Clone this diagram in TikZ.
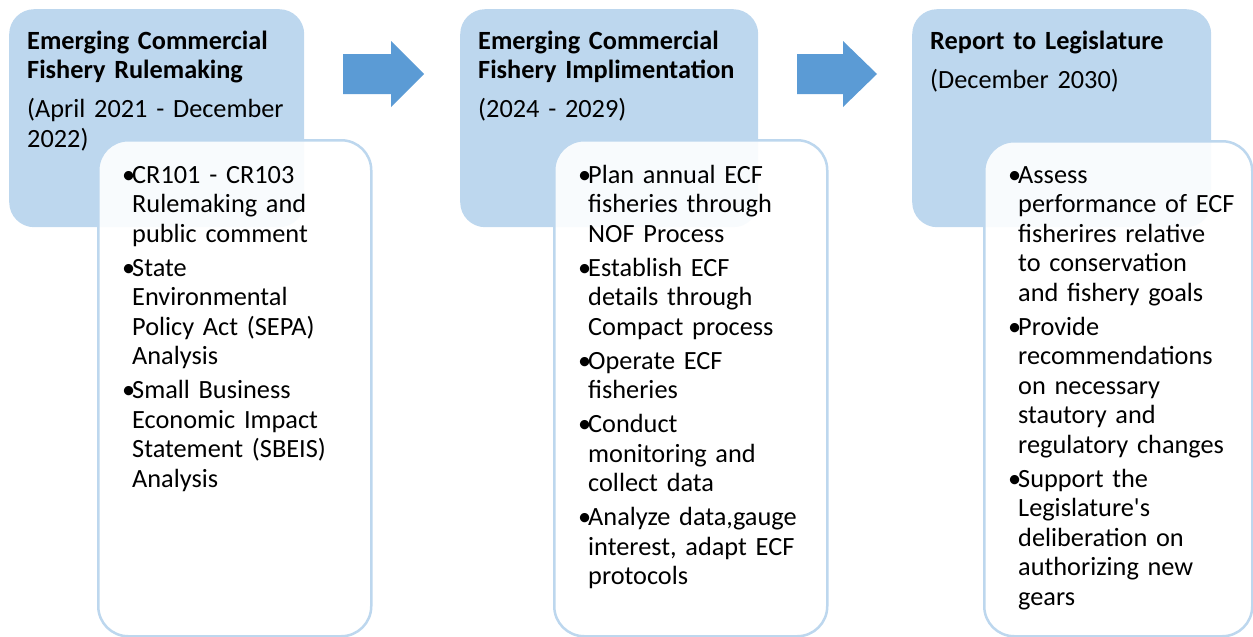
\documentclass[tikz,border=0pt]{standalone}
\usepackage{fontspec}
\setmainfont{Carlito}
\usepackage{tikz}

\definecolor{stageblue}{HTML}{BDD7EE}
\definecolor{arrowblue}{HTML}{5B9BD5}
\newlength{\bulw}
\setlength{\bulw}{10pt}
\newcommand{\bul}[1]{\noindent\makebox[\bulw][l]{\textbullet}\parbox[t]{235pt}{\raggedright\strut#1\strut}}

\tikzset{
  stagebox/.style={fill=stageblue, rounded corners=25pt, inner sep=0pt, anchor=north west},
  listbox/.style={draw=stageblue, line width=2.5pt, fill=white, fill opacity=0.9,
    rounded corners=30pt, inner sep=0pt, anchor=north west},
  headtext/.style={anchor=base west, inner sep=0pt, text width=285pt, align=left,
    font=\fontsize{26.3}{29.5}\selectfont\setlength{\parskip}{9.5pt}},
  bodytext/.style={anchor=base west, inner sep=0pt, text width=245pt, align=left,
    font=\fontsize{26.3}{29.5}\selectfont\setlength{\parskip}{4.5pt}\setlength{\lineskip}{0pt}},
  blockarrow/.style={fill=arrowblue},
}

\begin{document}
\begin{tikzpicture}[x=1pt, y=-1pt]
\useasboundingbox (0,0) rectangle (1253,637);
% stage backgrounds
\node [stagebox, minimum width=295pt, minimum height=218pt] (rule) at (9,9) {};
\node [stagebox, minimum width=298pt, minimum height=218pt] (impl) at (460,9) {};
\node [stagebox, minimum width=299pt, minimum height=218pt] (report) at (912,9) {};
% stage titles
\node [headtext] (ruletitle) at (27,49) {{\bfseries Emerging Commercial\\Fishery Rulemaking}\par
  (April 2021 - December\\2022)};
\node [headtext] (impltitle) at (478,49) {{\bfseries Emerging Commercial\\Fishery Implimentation}\par
  (2024 - 2029)};
\node [headtext] (reporttitle) at (930,49) {{\bfseries Report to Legislature}\par
  (December 2030)};
% task lists
\node [listbox, minimum width=273pt, minimum height=496pt] (rulelist) at (97,139) {};
\node [listbox, minimum width=273pt, minimum height=496pt] (impllist) at (553,139) {};
\node [listbox, minimum width=268pt, minimum height=495pt] (reportlist) at (983,140) {};
\node [bodytext] (ruletasks) at (122,183) {%
  \bul{CR101 - CR103\\Rulemaking and\\public comment}\par
  \bul{State\\Environmental\\Policy Act (SEPA)\\Analysis}\par
  \bul{Small Business\\Economic Impact\\Statement (SBEIS)\\Analysis}};
\node [bodytext] (impltasks) at (578,183) {%
  \bul{Plan annual ECF\\fisheries through\\NOF Process}\par
  \bul{Establish ECF\\details through\\Compact process}\par
  \bul{Operate ECF\\fisheries}\par
  \bul{Conduct\\monitoring and\\collect data}\par
  \bul{Analyze data,gauge\\interest, adapt ECF\\protocols}};
\node [bodytext] (reporttasks) at (1008,183) {%
  \bul{Assess\\performance of ECF\\fisherires relative\\to conservation\\and fishery goals}\par
  \bul{Provide\\recommendations\\on necessary\\stautory and\\regulatory changes}\par
  \bul{Support the\\Legislature\textquotesingle s\\deliberation on\\authorizing new\\gears}};
% arrows between stages
\fill [blockarrow] (343,54) -- (391,54) -- (391,41) -- (424,74) -- (391,107) -- (391,94) -- (343,94) -- cycle;
\fill [blockarrow] (797,54) -- (843,54) -- (843,41) -- (877,74) -- (843,107) -- (843,94) -- (797,94) -- cycle;
\end{tikzpicture}
\end{document}
